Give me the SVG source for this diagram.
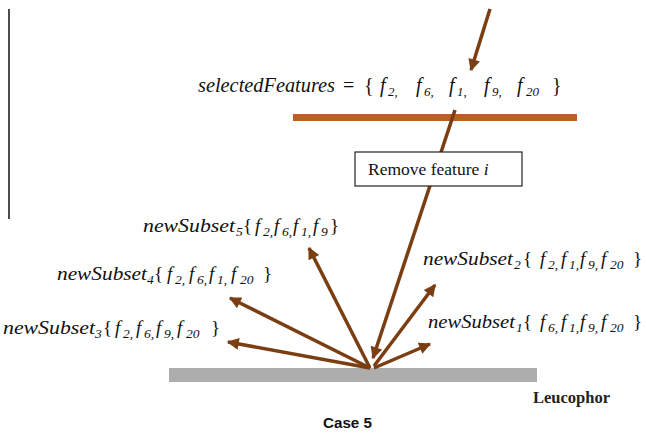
<svg xmlns="http://www.w3.org/2000/svg" width="646" height="433" viewBox="0 0 646 433">
<style>
.it{font-family:"Liberation Serif",serif;font-style:italic;font-size:19px;fill:#111}
.top{font-size:20px}
.s{font-size:13.5px}
.st{font-size:13px}
.n{font-style:normal}
.arr{stroke:#7A3E12;stroke-width:3.5;fill:none;marker-end:url(#ah)}
</style>
<defs>
<marker id="ah" viewBox="0 0 10 10" refX="9" refY="5" markerWidth="14" markerHeight="12" markerUnits="userSpaceOnUse" orient="auto">
<path d="M0,0 L10,5 L0,10 Z" fill="#7A3E12"/>
</marker>
</defs>
<rect width="646" height="433" fill="#fff"/>
<line x1="9" y1="9" x2="9" y2="219" stroke="#111" stroke-width="1.5"/>
<g id="bar-top"><rect x="293" y="114" width="284" height="7" fill="#BF5E24"/></g>
<g id="leucophor"><rect x="169" y="368" width="368" height="14" fill="#ADADAD"/>
<text x="533" y="403" font-family="Liberation Serif,serif" font-weight="bold" font-size="16" fill="#222" textLength="77" lengthAdjust="spacingAndGlyphs">Leucophor</text></g>
<g id="selected">
<text class="it top"><tspan x="198" y="92" textLength="137" lengthAdjust="spacingAndGlyphs">selectedFeatures</tspan><tspan class="n" x="343" y="92">=</tspan><tspan class="n" x="364" y="92">{</tspan><tspan x="380" y="92">f</tspan><tspan class="st" x="388" y="96">2,</tspan><tspan x="416" y="92">f</tspan><tspan class="st" x="424" y="96">6,</tspan><tspan x="449" y="92">f</tspan><tspan class="st" x="457" y="96">1,</tspan><tspan x="484" y="92">f</tspan><tspan class="st" x="492" y="96">9,</tspan><tspan x="517" y="92">f</tspan><tspan class="st" x="526" y="96">20</tspan><tspan class="n" x="552" y="92">}</tspan></text>
</g>
<g id="connectors">
<line class="arr" x1="490" y1="9" x2="471" y2="70"/>
<line class="arr" x1="455" y1="110" x2="373" y2="358"/>
<line class="arr" x1="370" y1="368" x2="309" y2="248"/>
<line class="arr" x1="370" y1="368" x2="230" y2="298"/>
<line class="arr" x1="370" y1="368" x2="228" y2="342"/>
<line class="arr" x1="374" y1="366" x2="435" y2="285"/>
<line class="arr" x1="374" y1="368" x2="430" y2="344"/>
</g>
<g id="remove">
<rect x="355" y="152" width="167" height="34" fill="#fff" stroke="#222" stroke-width="1.2"/>
<text x="368" y="175" font-family="Liberation Serif,serif" font-size="17.5" fill="#111">Remove feature <tspan font-style="italic">i</tspan></text>
</g>
<g id="ns5"><text class="it"><tspan x="143" y="232" textLength="92" lengthAdjust="spacingAndGlyphs">newSubset</tspan><tspan class="s" x="236" y="236">5</tspan><tspan class="n" x="243" y="232">{</tspan><tspan x="255" y="232">f</tspan><tspan class="s" x="263" y="236">2,</tspan><tspan x="274" y="232">f</tspan><tspan class="s" x="282" y="236">6,</tspan><tspan x="293" y="232">f</tspan><tspan class="s" x="301" y="236">1,</tspan><tspan x="313" y="232">f</tspan><tspan class="s" x="321" y="236">9</tspan><tspan class="n" x="330" y="232">}</tspan></text></g>
<g id="ns4"><text class="it"><tspan x="57" y="280" textLength="90" lengthAdjust="spacingAndGlyphs">newSubset</tspan><tspan class="s" x="147" y="284">4</tspan><tspan class="n" x="154" y="280">{</tspan><tspan x="167" y="280">f</tspan><tspan class="s" x="175" y="284">2,</tspan><tspan x="189" y="280">f</tspan><tspan class="s" x="197" y="284">6,</tspan><tspan x="209" y="280">f</tspan><tspan class="s" x="217" y="284">1,</tspan><tspan x="231" y="280">f</tspan><tspan class="s" x="240" y="284">20</tspan><tspan class="n" x="263" y="280">}</tspan></text></g>
<g id="ns3"><text class="it"><tspan x="3" y="334" textLength="92" lengthAdjust="spacingAndGlyphs">newSubset</tspan><tspan class="s" x="95" y="338">3</tspan><tspan class="n" x="103" y="334">{</tspan><tspan x="115" y="334">f</tspan><tspan class="s" x="123" y="338">2,</tspan><tspan x="136" y="334">f</tspan><tspan class="s" x="144" y="338">6,</tspan><tspan x="156" y="334">f</tspan><tspan class="s" x="164" y="338">9,</tspan><tspan x="177" y="334">f</tspan><tspan class="s" x="186" y="338">20</tspan><tspan class="n" x="211" y="334">}</tspan></text></g>
<g id="ns2"><text class="it"><tspan x="423" y="265" textLength="90" lengthAdjust="spacingAndGlyphs">newSubset</tspan><tspan class="s" x="514" y="269">2</tspan><tspan class="n" x="523" y="265">{</tspan><tspan x="540" y="265">f</tspan><tspan class="s" x="548" y="269">2,</tspan><tspan x="561" y="265">f</tspan><tspan class="s" x="569" y="269">1,</tspan><tspan x="580" y="265">f</tspan><tspan class="s" x="588" y="269">9,</tspan><tspan x="601" y="265">f</tspan><tspan class="s" x="610" y="269">20</tspan><tspan class="n" x="633" y="265">}</tspan></text></g>
<g id="ns1"><text class="it"><tspan x="428" y="328" textLength="87" lengthAdjust="spacingAndGlyphs">newSubset</tspan><tspan class="s" x="516" y="332">1</tspan><tspan class="n" x="523" y="328">{</tspan><tspan x="540" y="328">f</tspan><tspan class="s" x="548" y="332">6,</tspan><tspan x="561" y="328">f</tspan><tspan class="s" x="569" y="332">1,</tspan><tspan x="580" y="328">f</tspan><tspan class="s" x="588" y="332">9,</tspan><tspan x="601" y="328">f</tspan><tspan class="s" x="610" y="332">20</tspan><tspan class="n" x="633" y="328">}</tspan></text></g>
<g id="caption"><text x="323" y="428" font-family="Liberation Sans,sans-serif" font-weight="bold" font-size="15" fill="#111" textLength="49" lengthAdjust="spacingAndGlyphs">Case 5</text></g>
</svg>
